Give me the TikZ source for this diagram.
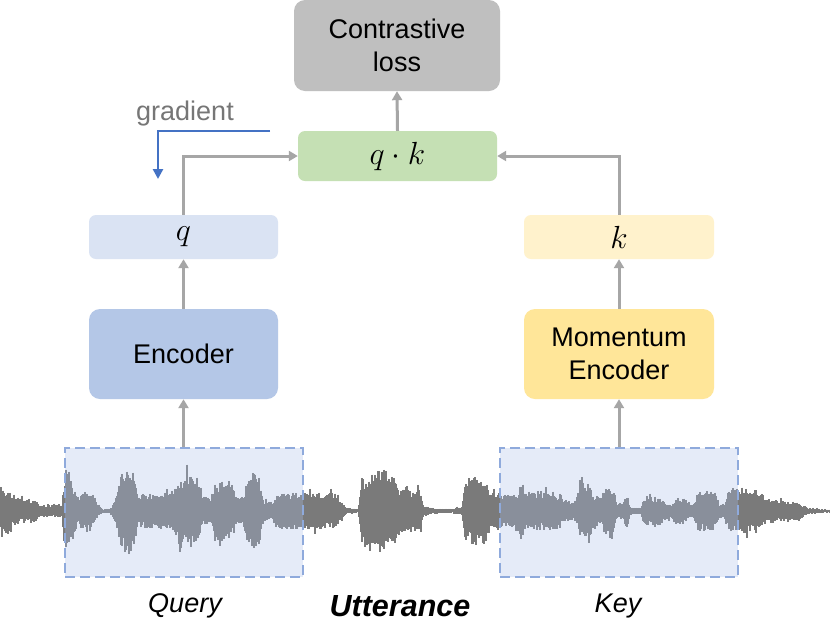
\RequirePackage{fix-cm}
\documentclass[tikz,border=0pt]{standalone}
\usepackage{fontspec}
\setmainfont{Liberation Sans}
\usetikzlibrary{arrows.meta}
\definecolor{lossc}{HTML}{BFBFBF}
\definecolor{qkc}{HTML}{C5E0B4}
\definecolor{qc}{HTML}{DAE3F3}
\definecolor{encc}{HTML}{B4C7E7}
\definecolor{kc}{HTML}{FFF2CC}
\definecolor{mencc}{HTML}{FFE699}
\definecolor{arrc}{HTML}{A6A6A6}
\definecolor{gradc}{HTML}{4472C4}
\definecolor{gtext}{HTML}{767676}
\definecolor{dashc}{HTML}{8FAADC}
\definecolor{segc}{RGB}{172,192,232}
\definecolor{wavec}{HTML}{7A7A7A}
\tikzset{
  blk/.style={rounded corners=11pt, inner sep=0pt, align=center,
    font=\fontsize{27}{33}\selectfont},
  small/.style={rounded corners=7pt, inner sep=0pt, align=center,
    font=\fontsize{32}{36}\selectfont},
  arr/.style={draw=arrc, line width=3pt, -{Triangle[length=9pt,width=10pt]}},
  gradarr/.style={draw=gradc, line width=2.8pt, -{Triangle[length=10pt,width=10pt]}},
  segbox/.style={draw=dashc, line width=2.8pt, dash pattern=on 10pt off 5pt,
    fill=segc, fill opacity=0.3, minimum width=238pt, minimum height=129pt, inner sep=0pt},
  lbl/.style={anchor=base, font=\fontsize{27}{33}\selectfont\itshape},
  wave/.style={draw=wavec, line width=1.3pt}
}
\begin{document}
\begin{tikzpicture}[x=1pt,y=-1pt]
\useasboundingbox (0,0) rectangle (830,622);
\fill[white] (0,0) rectangle (830,622);

% waveform
\pgfmathsetseed{7}
\foreach \xb/\ab [remember=\xb as \xa (initially 0), remember=\ab as \aa (initially 24)] in
 {8/22, 12/14, 20/13, 35/11, 40/6, 62/6, 65/40, 69/42, 72/25, 78/14, 83/18, 93/18, 97/8,
  103/2, 112/3, 118/22, 122/38, 128/42, 134/40, 138/14, 142/16, 158/17, 166/18, 174/18,
  177/33, 190/36, 200/28, 203/13, 211/13, 215/28, 230/30, 237/14, 244/15, 248/36, 258/38,
  264/10, 272/8, 277/18, 300/18, 320/18, 335/17, 342/8, 346/3, 358/2, 362/32, 372/38,
  392/38, 400/22, 420/20, 424/5, 432/3, 452/2, 462/5, 466/32, 485/33, 490/18, 500/16,
  518/16, 521/30, 524/20, 560/18, 565/10, 576/10, 580/27, 590/27, 593/15, 601/14, 605/22,
  614/22, 617/8, 623/8, 627/20, 630/4, 641/3, 644/14, 662/14, 666/8, 672/8, 675/13,
  686/13, 689/7, 694/7, 698/19, 716/19, 719/7, 724/7, 728/19, 740/22, 760/22, 765/12,
  777/11, 800/8, 808/3, 830/1.5}
{
  \pgfmathtruncatemacro\n{max(1,round(\xb-\xa))}
  \foreach \i in {1,...,\n} {
    \pgfmathsetmacro\xx{\xa+(\xb-\xa)*\i/\n}
    \pgfmathsetmacro\amp{\aa+(\ab-\aa)*\i/\n}
    \pgfmathsetmacro\up{max(1,\amp*(0.6+0.45*rnd)*(rnd>0.92 ? 1.25 : 1))}
    \pgfmathsetmacro\dn{max(1,\amp*(0.6+0.45*rnd)*(rnd>0.92 ? 1.25 : 1))}
    \draw[wave] (\xx,511-\up) -- (\xx,511+\dn);
  }
}

% segment boxes
\node[segbox] (qbox) at (184,512.5) {};
\node[segbox] (kbox) at (619,512.5) {};

% blocks
\node[blk, fill=lossc, minimum width=206pt, minimum height=91pt] (loss) at (397,45.5) {Contrastive\\loss};
\node[small, fill=qkc, minimum width=199pt, minimum height=50pt] (qk) at (397.5,156) {$q\cdot k$};
\node[small, fill=qc, minimum width=189pt, minimum height=44pt] (q) at (183.5,237) {$q$};
\node[small, fill=kc, minimum width=190pt, minimum height=44pt] (k) at (619,237) {$k$};
\node[blk, fill=encc, minimum width=189pt, minimum height=90pt] (enc) at (183.5,354) {Encoder};
\node[blk, fill=mencc, minimum width=190pt, minimum height=90pt] (menc) at (619,354) {Momentum\\Encoder};

% connectors
\draw[arr] (qk.north) -- (loss.south);
\draw[arr] (q.north) |- (qk.west);
\draw[arr] (k.north) |- (qk.east);
\draw[arr] (enc.north) -- (q.south);
\draw[arr] (menc.north) -- (k.south);
\draw[arr] (qbox.north -| enc.south) -- (enc.south);
\draw[arr] (kbox.north) -- (menc.south);

% gradient
\node[anchor=base, text=gtext, font=\fontsize{27}{33}\selectfont] (grad) at (185,120.5) {gradient};
\coordinate (gs) at (270,131);
\coordinate (ge) at (158,179);
\draw[gradarr] (gs) -| (ge);

% labels
\node[lbl] (query) at (185,612.5) {Query};
\node[anchor=base, font=\fontsize{30.5}{34}\selectfont\bfseries\itshape] (utt) at (400,616) {Utterance};
\node[lbl] (keylbl) at (618,612.5) {Key};
\end{tikzpicture}
\end{document}
